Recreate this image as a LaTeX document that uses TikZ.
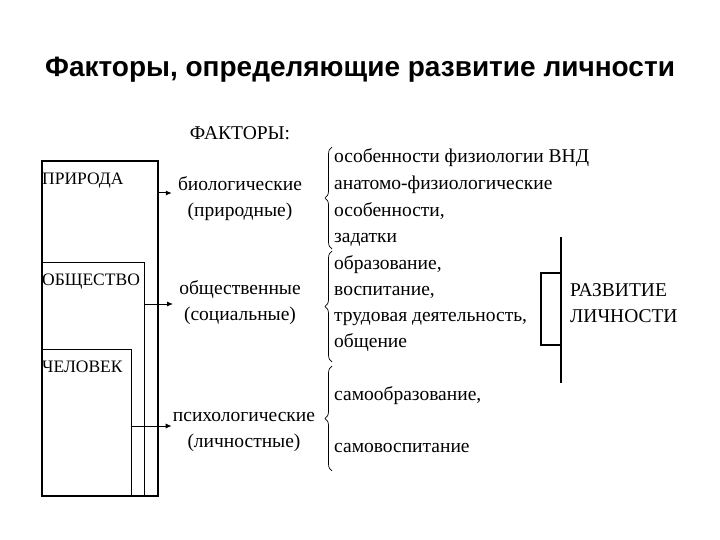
\documentclass[tikz,border=0pt]{standalone}
\usepackage{fontspec}
\setmainfont{Liberation Serif}
\newfontfamily\titlefont{Liberation Sans}
\usetikzlibrary{decorations.pathreplacing,arrows.meta}

\tikzset{
  box/.style={draw,line width=1.3pt,anchor=north west,inner sep=0pt},
  boxlbl/.style={font=\fontsize{17.5}{26}\selectfont,inner sep=0pt,anchor=west,text height=13pt,text depth=4pt},
  lbl/.style={font=\fontsize{19.5}{26}\selectfont,inner sep=0pt},
  item/.style={font=\fontsize{19.5}{26}\selectfont,anchor=west,inner sep=0pt,text height=14pt,text depth=4pt},
  arr/.style={-{Latex[length=6pt,width=5pt]},line width=1pt},
  brc/.style={decorate,decoration={brace,amplitude=7pt},line width=0.7pt}
}

\begin{document}
\begin{tikzpicture}[x=1pt,y=-1pt]
	\useasboundingbox (0,0) rectangle (720,540);
	\node (title) at (360,70) {\titlefont\bfseries\fontsize{28}{32}\selectfont Факторы, определяющие развитие личности};
	
	% nested boxes
	\node[box,line width=1.8pt,minimum width=116pt,minimum height=335pt] (priroda) at (41,160) {};
	\node[box,minimum width=103pt,minimum height=233pt] (obsh) at (41,262) {};
	\node[box,minimum width=90pt,minimum height=146pt] (chel) at (41,349) {};
	\node[boxlbl] (tpriroda) at (42,180) {ПРИРОДА};
	\node[boxlbl] (tobsh) at (42,281) {ОБЩЕСТВО};
	\node[boxlbl] (tchel) at (42,368) {ЧЕЛОВЕК};
	
	% factors
	\node[lbl] (faktory) at (240,133) {ФАКТОРЫ:};
	\node[lbl,align=center] (bio) at (240,199) {биологические\\(природные)};
	\node[lbl,align=center] (soc) at (240,303) {общественные\\(социальные)};
	\node[lbl,align=center] (psy) at (244,432) {психологические\\(личностные)};
	
	\draw[arr] (priroda.east |- 0,193) -- ([xshift=-6pt]bio.west |- 0,193);
	\draw[arr] (obsh.east |- 0,304) -- ([xshift=-6pt]soc.west |- 0,304);
	\draw[arr] (chel.east |- 0,426) -- ([xshift=-1pt]psy.west |- 0,426);
	
	% braces
	\draw[brc] (332,249) -- (332,147);
	\draw[brc] (332,362) -- (332,251);
	\draw[brc] (332,471) -- (332,366);
	
	\node[item] (i1) at (334,158) {особенности физиологии ВНД};
	\node[item] (i2) at (334,185) {анатомо-физиологические};
	\node[item] (i3) at (334,211) {особенности,};
	\node[item] (i4) at (334,238) {задатки};
	\node[item] (i5) at (334,264) {образование,};
	\node[item] (i6) at (334,290) {воспитание,};
	\node[item] (i7) at (334,316) {трудовая деятельность,};
	\node[item] (i8) at (334,342) {общение};
	\node[item] (i9) at (334,395) {самообразование,};
	\node[item] (i10) at (334,447) {самовоспитание};
	
	% result
	\draw[line width=2pt] (561,237) -- (561,383);
	\draw[line width=1.5pt] (561,273) -| (541,345) -- (561,345);
	\node[lbl,align=left,anchor=west] (razv) at (570,303) {РАЗВИТИЕ\\ЛИЧНОСТИ};
\end{tikzpicture}
\end{document}
